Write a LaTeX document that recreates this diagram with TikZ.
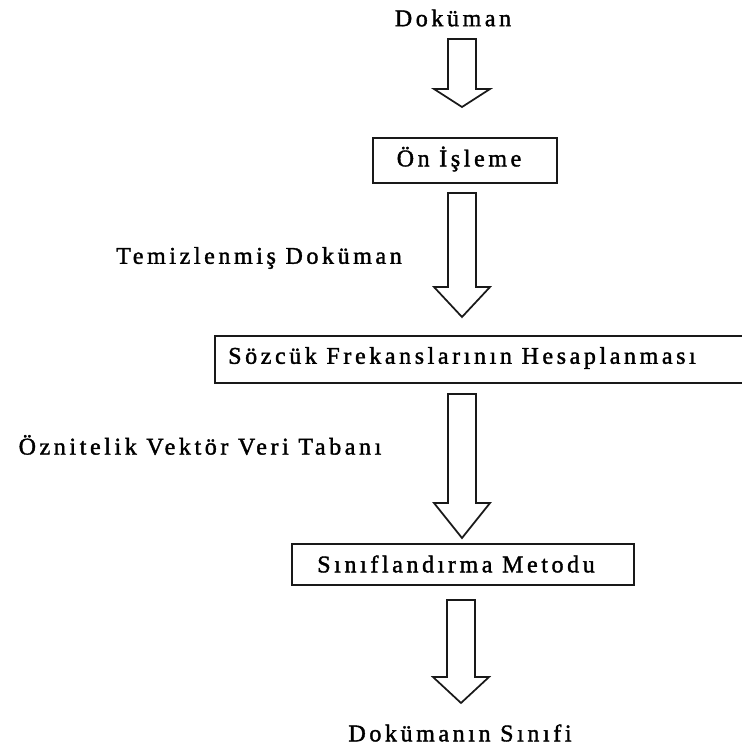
\documentclass[tikz,border=0pt]{standalone}
\usepackage{fontspec}
\setmainfont{Liberation Serif}[LetterSpace=15,FakeBold=1.6]
\begin{document}
\begin{tikzpicture}[x=0.75pt,y=-0.75pt,
  lbl/.style={inner sep=0pt,font=\fontsize{18}{21}\selectfont},
  boxnode/.style={draw=black!90,line width=1.4pt,inner sep=0pt},
  barrow/.style={draw=black!90,line width=1.3pt,fill=white,line join=miter}]
\useasboundingbox (0,0) rectangle (742,747);
\clip (0,0) rectangle (742,747);
% boxes
\node[boxnode,minimum width=138pt,minimum height=33.75pt] (b1) at (465,160.5) {};
\node[boxnode,minimum width=405pt,minimum height=35.25pt] (b2) at (485,359.5) {};
\node[boxnode,minimum width=256.5pt,minimum height=30.75pt] (b3) at (463,564.5) {};
% texts
\node[lbl] (t0) at (453,18) {Doküman};
\node[lbl] (t1) at (459,159) {Ön İşleme};
\node[lbl] (t2) at (259,258) {Temizlenmiş Doküman};
\node[lbl] (t3) at (462,358) {Sözcük Frekanslarının Hesaplanması};
\node[lbl] (t4) at (200,445) {Öznitelik Vektör Veri Tabanı};
\node[lbl] (t5) at (456,564) {Sınıflandırma Metodu};
\node[lbl] (t6) at (460,733) {Dokümanın Sınıfi};
% block arrows
\newcommand{\blockarr}[4]{%
  \draw[barrow] (#1-14,#2) -- (#1+14,#2) -- (#1+14,#3) -- (#1+28,#3) -- (#1,#4)
    -- (#1-28,#3) -- (#1-14,#3) -- cycle;}
\blockarr{462}{39}{89}{107}
\blockarr{462}{193}{287}{317}
\blockarr{462}{394}{503}{538}
\blockarr{461}{600}{677}{703}
\end{tikzpicture}
\end{document}
